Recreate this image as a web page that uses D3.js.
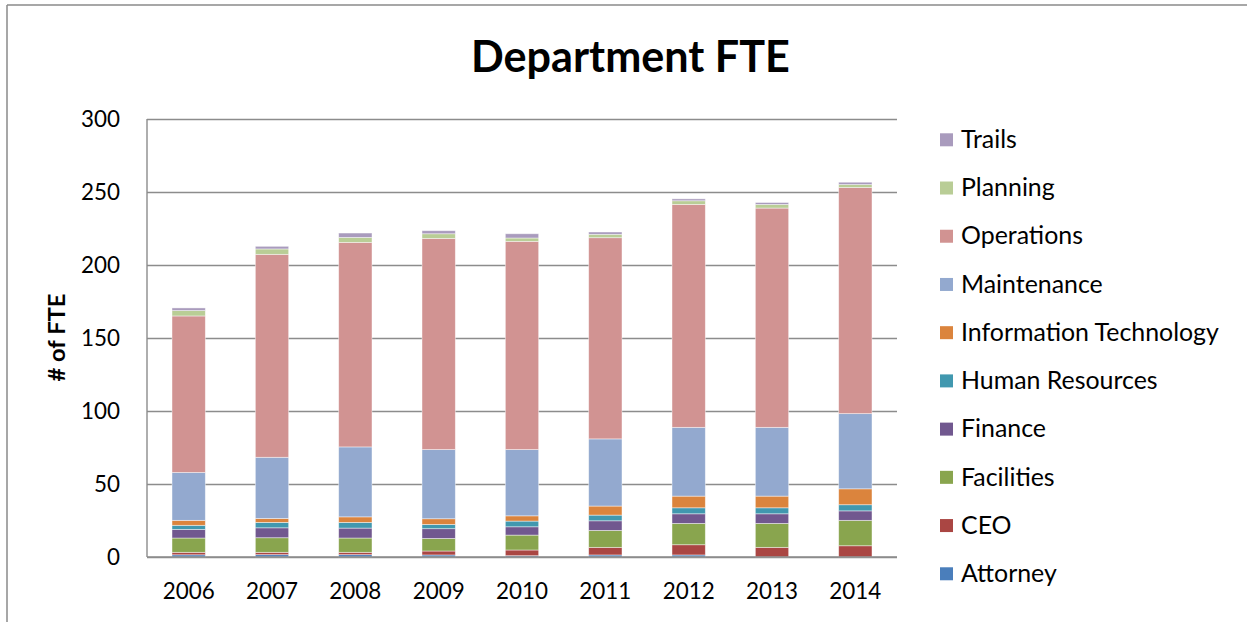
<!DOCTYPE html>
<html>
<head>
<meta charset="utf-8">
<script src="https://cdn.jsdelivr.net/npm/d3@7"></script>
<style>
  html, body { margin: 0; padding: 0; background: #fff; }
  svg { display: block; font-family: Lato, "Open Sans", sans-serif; }
</style>
</head>
<body>
<svg id="chart" width="1247" height="622"></svg>
<script>
// ---- data ----
const years = ["2006", "2007", "2008", "2009", "2010", "2011", "2012", "2013", "2014"];
const departments = ["Attorney", "CEO", "Facilities", "Finance", "Human Resources",
  "Information Technology", "Maintenance", "Operations", "Planning", "Trails"];
const attorney    = [1.5, 1.6, 1.6, 1.4, 0.9, 1.4, 1.4, 0, 0];
const ceo         = [1.7, 1.6, 1.6, 2.7, 3.9, 5.2, 7.0, 6.6, 7.7];
const facilities  = [9.8, 10.0, 9.8, 8.6, 10.2, 11.6, 14.6, 16.4, 17.4];
const finance     = [5.9, 6.8, 6.8, 6.7, 5.7, 6.6, 6.6, 6.6, 6.5];
const humanRes    = [2.8, 3.7, 3.9, 2.9, 3.9, 3.9, 4.1, 4.1, 4.2];
const infoTech    = [3.4, 2.7, 3.8, 3.9, 3.6, 6.2, 8.0, 8.0, 10.9];
const maintenance = [32.8, 41.9, 47.9, 47.4, 45.4, 46.0, 47.1, 47.1, 51.5];
const operations  = [107.2, 139.0, 140.1, 144.6, 142.6, 137.8, 152.7, 150.2, 154.9];
const planning    = [3.7, 3.7, 3.4, 3.2, 2.3, 2.3, 2.5, 2.5, 2.0];
const trails      = [1.8, 1.8, 3.0, 2.1, 2.9, 1.6, 1.3, 1.3, 1.6];
const yTicks = [0, 50, 100, 150, 200, 250, 300];
const title = "Department FTE";
const yTitle = "# of FTE";

const seriesValues = [attorney, ceo, facilities, finance, humanRes, infoTech,
  maintenance, operations, planning, trails];
const colors = ["#4A7EBB", "#AA4643", "#89A54E", "#71588F", "#4198AF",
  "#DB843D", "#93A9CF", "#D19392", "#B9CD96", "#A99BBD"];

// ---- table for the stack ----
const table = years.map((y, i) => {
  const row = { year: y };
  departments.forEach((d, k) => row[d] = seriesValues[k][i]);
  return row;
});
const stacked = d3.stack().keys(departments)(table);

// ---- layout ----
const svg = d3.select("#chart");
const plot = { left: 147, right: 897, top: 119, bottom: 557 };

const x = d3.scaleBand().domain(years).range([plot.left, plot.right])
  .paddingInner(0.6).paddingOuter(0.3);
const y = d3.scaleLinear().domain([0, 300]).range([plot.bottom, plot.top]);
const color = d3.scaleOrdinal().domain(departments).range(colors);

// helper: fit font size so text reaches target width
function fit(sel, targetWidth) {
  const node = sel.node();
  const fs = parseFloat(sel.style("font-size"));
  const w = node.getComputedTextLength();
  sel.style("font-size", (fs * targetWidth / w) + "px");
}

// outer frame lines (top and left)
svg.append("line").attr("x1", 7).attr("x2", 1247).attr("y1", 5).attr("y2", 5)
  .attr("stroke", "#8a8a8a").attr("stroke-width", 1.5);
svg.append("line").attr("x1", 7).attr("x2", 7).attr("y1", 5).attr("y2", 622)
  .attr("stroke", "#8a8a8a").attr("stroke-width", 1.5);

// gridlines
svg.append("g")
  .attr("transform", `translate(${plot.left},0)`)
  .call(d3.axisLeft(y).tickValues(yTicks).tickSize(-(plot.right - plot.left)).tickFormat(""))
  .call(g => g.select(".domain").remove())
  .call(g => g.selectAll("line").attr("stroke", "#8c8c8c").attr("stroke-width", 1.4));

// bars
svg.append("g").selectAll("g").data(stacked).join("g")
  .attr("fill", d => color(d.key))
  .selectAll("rect").data(d => d).join("rect")
  .attr("x", d => x(d.data.year))
  .attr("width", x.bandwidth())
  .attr("y", d => y(d[1]))
  .attr("height", d => Math.max(0, y(d[0]) - y(d[1])))
  .attr("stroke", "rgba(255,255,255,0.55)")
  .attr("stroke-width", 0.8);

// y axis line
svg.append("line").attr("x1", plot.left).attr("x2", plot.left)
  .attr("y1", plot.top).attr("y2", plot.bottom)
  .attr("stroke", "#8c8c8c").attr("stroke-width", 1.4);
// x axis line
svg.append("line").attr("x1", plot.left).attr("x2", plot.right)
  .attr("y1", plot.bottom).attr("y2", plot.bottom)
  .attr("stroke", "#8c8c8c").attr("stroke-width", 1.4);

// y tick labels
const yAxis = svg.append("g")
  .attr("transform", `translate(${plot.left},0)`)
  .call(d3.axisLeft(y).tickValues(yTicks).tickSize(0).tickPadding(27))
  .call(g => g.select(".domain").remove());
yAxis.selectAll("text").attr("fill", "#000").style("font-family", "Lato")
  .style("font-size", "22px");
fit(yAxis.selectAll("text").filter(d => d === 300), 39);
const tickFont = yAxis.selectAll("text").filter(d => d === 300).style("font-size");
yAxis.selectAll("text").style("font-size", tickFont);

// x tick labels
const xAxis = svg.append("g")
  .attr("transform", `translate(0,${plot.bottom})`)
  .call(d3.axisBottom(x).tickSize(0).tickPadding(26))
  .call(g => g.select(".domain").remove());
xAxis.selectAll("text").attr("fill", "#000").style("font-family", "Lato")
  .style("font-size", tickFont);

// title
const t = svg.append("text").attr("x", 630.5).attr("y", 72)
  .attr("text-anchor", "middle").style("font-weight", "bold")
  .style("font-size", "40px").text(title);
fit(t, 319);

// y axis title
const yt = svg.append("text")
  .attr("transform", "translate(65,337.5) rotate(-90)")
  .attr("text-anchor", "middle").style("font-weight", "bold")
  .style("font-size", "20px").text(yTitle);
fit(yt, 88);

// legend
const legendOrder = departments.slice().reverse();
const lg = svg.append("g").selectAll("g").data(legendOrder).join("g")
  .attr("transform", (d, i) => `translate(940,${139.3 + i * 48.22})`);
lg.append("rect").attr("x", 0).attr("y", -6).attr("width", 13).attr("height", 13)
  .attr("fill", d => color(d));
const lt = lg.append("text").attr("x", 21).attr("dy", "0.35em")
  .style("font-size", "22px").text(d => d);
const longest = lt.filter(d => d === "Information Technology");
fit(longest, 258);
lt.style("font-size", longest.style("font-size"));
</script>
</body>
</html>
